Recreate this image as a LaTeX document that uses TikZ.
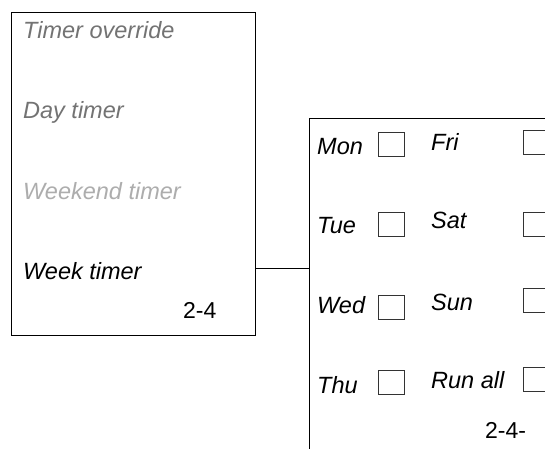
\documentclass[tikz,border=0pt]{standalone}
\usepackage{fontspec}
\setmainfont{Liberation Sans}
\begin{document}
\begin{tikzpicture}[x=1pt,y=-1pt,
  lbl/.style={anchor=base west,inner sep=0pt,font=\fontsize{23.5}{28}\selectfont\itshape},
  num/.style={anchor=base west,inner sep=0pt,font=\fontsize{23}{28}\selectfont},
  frame/.style={draw=black,line width=0.9pt,inner sep=0pt,anchor=north west},
  cbox/.style={draw=black!80,line width=0.8pt,inner sep=0pt,minimum width=26pt,minimum height=24pt,anchor=north west},
  link/.style={draw=black,line width=0.9pt}]
\clip (0,0) rectangle (545,448);
\fill[white] (0,0) rectangle (545,448);
% left box
\node[frame,minimum width=244pt,minimum height=323pt] (lbox) at (11,12) {};
\node[lbl,text=black!55] (t1) at (23,38) {Timer override};
\node[lbl,text=black!55] (t2) at (23,118) {Day timer};
\node[lbl,text=black!32] (t3) at (23,199) {Weekend timer};
\node[lbl,text=black] (t4) at (23,279) {Week timer};
\node[num] (n1) at (183,318) {2-4};
% right box
\node[frame,minimum width=300pt,minimum height=400pt] (rbox) at (309,118) {};
\coordinate (cy) at (0,268);
\draw[link] (cy -| lbox.east) -- (cy -| rbox.west);
% left column
\node[lbl] (mon) at (317,154) {Mon};
\node[lbl] (tue) at (317,233) {Tue};
\node[lbl] (wed) at (317,313) {Wed};
\node[lbl] (thu) at (317,393) {Thu};
\node[cbox] (bmon) at (378,132) {};
\node[cbox] (btue) at (378,212) {};
\node[cbox] (bwed) at (378,295) {};
\node[cbox] (bthu) at (378,370) {};
% right column
\node[lbl] (fri) at (431,150) {Fri};
\node[lbl] (sat) at (431,228) {Sat};
\node[lbl] (sun) at (431,310) {Sun};
\node[lbl] (run) at (431,388) {Run all};
\node[cbox] (bfri) at (523,130) {};
\node[cbox] (bsat) at (523,212) {};
\node[cbox] (bsun) at (523,288) {};
\node[cbox] (brun) at (523,367) {};
\node[num] (n2) at (485,438) {2-4-};
\end{tikzpicture}
\end{document}
